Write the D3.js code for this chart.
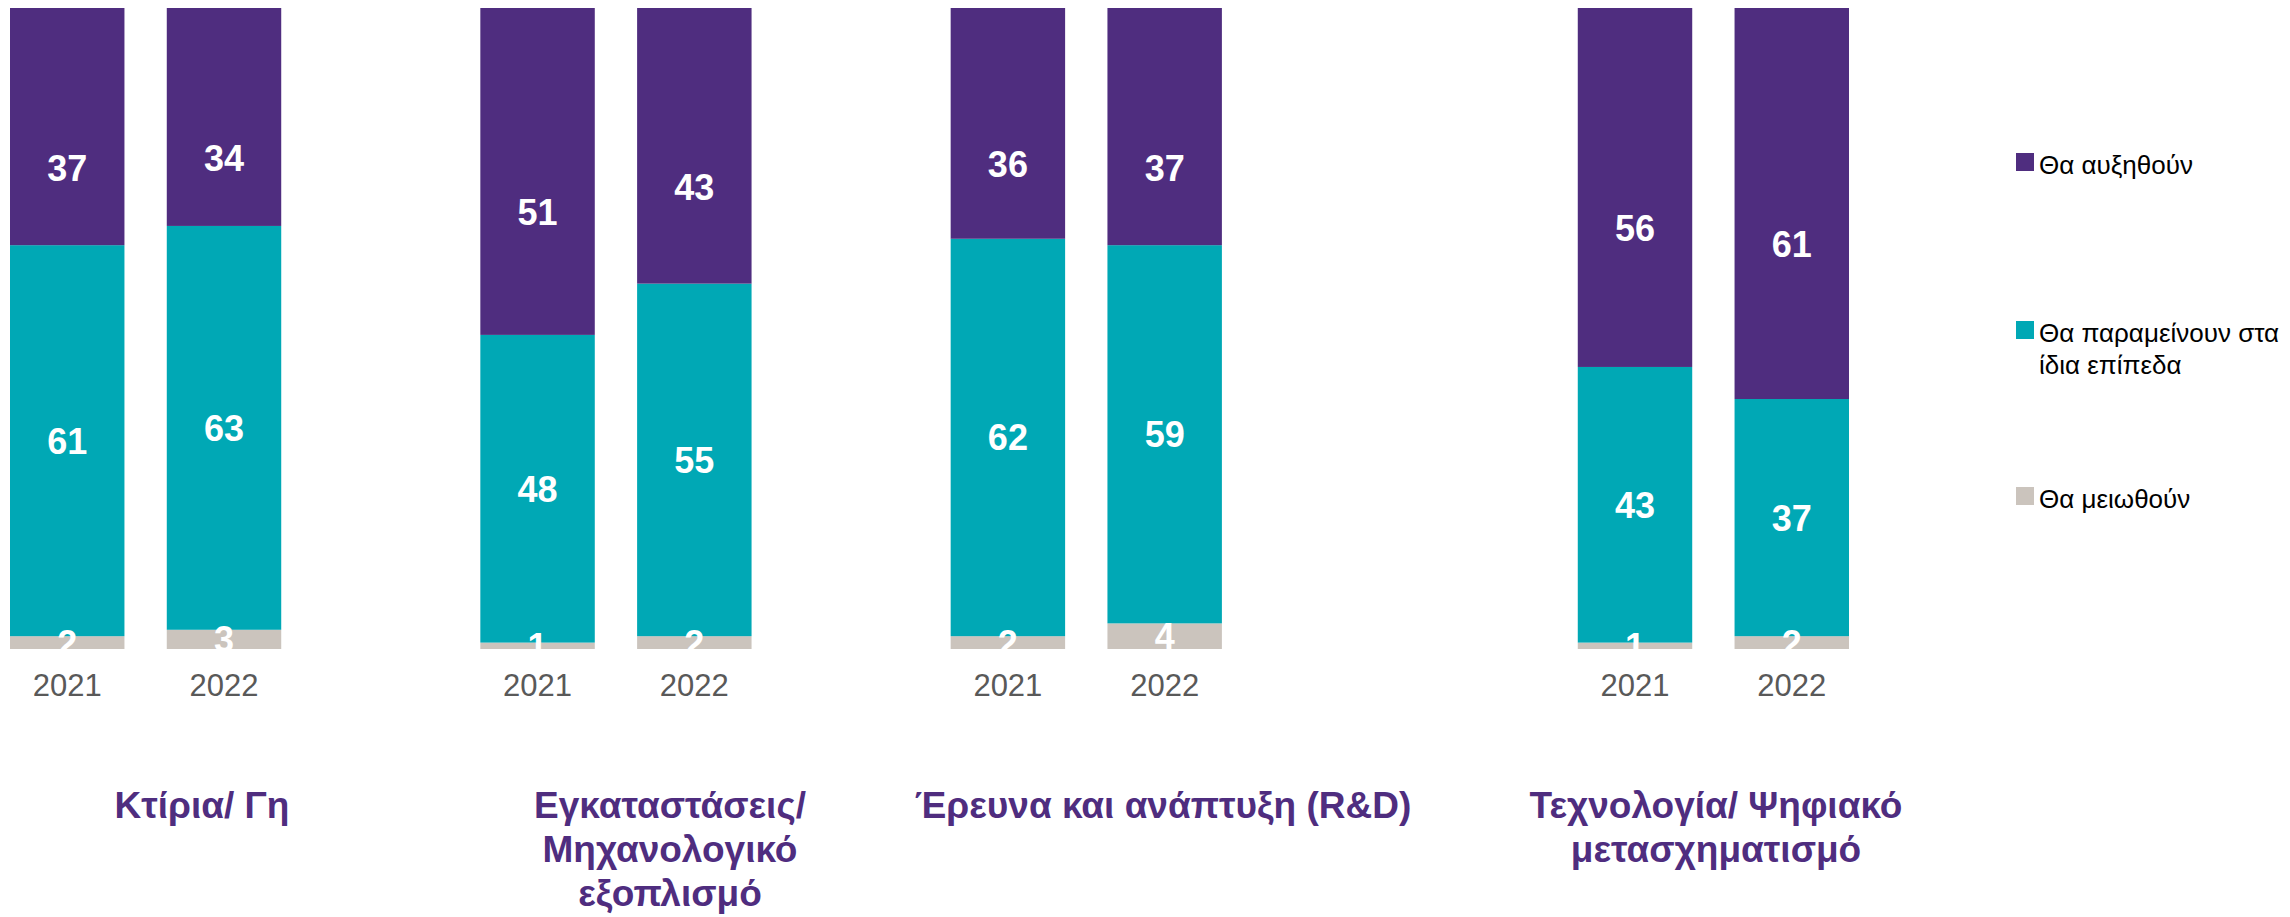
<!DOCTYPE html>
<html>
<head>
<meta charset="utf-8">
<script src="https://cdn.jsdelivr.net/npm/d3@7"></script>
<style>
    body { margin: 0; background: #fff; }
    text { font-family: "Liberation Sans", Arial, sans-serif; }
</style>
</head>
<body>
<svg id="canvas" width="2290" height="917"></svg>
<script>
const categories = [
    ["Κτίρια/ Γη"],
    ["Εγκαταστάσεις/", "Μηχανολογικό", "εξοπλισμό"],
    ["Έρευνα και ανάπτυξη (R&D)"],
    ["Τεχνολογία/ Ψηφιακό", "μετασχηματισμό"]
];
const years = ["2021", "2022"];
const seriesKeys = ["decrease", "same", "increase"];
const seriesNames = {
    increase: ["Θα αυξηθούν"],
    same: ["Θα παραμείνουν στα", "ίδια επίπεδα"],
    decrease: ["Θα μειωθούν"]
};

// one value per bar: category order, 2021 then 2022
const decrease = [2, 3, 1, 2, 2, 4, 1, 2];
const same = [61, 63, 48, 55, 62, 59, 43, 37];
const increase = [37, 34, 51, 43, 36, 37, 56, 61];

const svg = d3.select("#canvas");
const width = 2290;
const height = 917;

const colors = {
    increase: "#4f2d7f",
    same: "#00a8b5",
    decrease: "#cbc4bd"
};

// empty slots after each category (the chart leaves gaps)
const gapsAfter = [1, 1, 2, 0];

const bars = [];
const slots = [];
categories.forEach((c, ci) => {
    years.forEach((y, yi) => {
        const i = ci * years.length + yi;
        const key = ci + "-" + y;
        slots.push(key);
        bars.push({ key, cat: ci, year: y, decrease: decrease[i], same: same[i], increase: increase[i] });
    });
    for (let g = 0; g < gapsAfter[ci]; g++) slots.push("gap" + ci + "-" + g);
});

const x = d3.scaleBand()
    .domain(slots)
    .range([10, 1849])
    .paddingInner(0.27)
    .paddingOuter(0);

const y = d3.scaleLinear()
    .domain([0, 100])
    .range([649, 8]);

const stacked = d3.stack().keys(seriesKeys)(bars);

const layers = svg.append("g")
    .selectAll("g")
    .data(stacked)
    .join("g")
    .attr("fill", d => colors[d.key]);

layers.selectAll("rect")
    .data(d => d)
    .join("rect")
    .attr("x", d => x(d.data.key))
    .attr("y", d => y(d[1]))
    .attr("width", x.bandwidth())
    .attr("height", d => y(d[0]) - y(d[1]));

// value labels, the top series sits a bit lower than the middle
const topLabelShift = 41;
stacked.forEach(layer => {
    svg.append("g")
        .selectAll("text")
        .data(layer)
        .join("text")
        .attr("x", d => x(d.data.key) + x.bandwidth() / 2)
        .attr("y", d => (y(d[0]) + y(d[1])) / 2 + (layer.key === "increase" ? topLabelShift : 0))
        .attr("dy", "0.36em")
        .attr("text-anchor", "middle")
        .attr("font-size", "36px")
        .attr("font-weight", "bold")
        .attr("fill", "white")
        .text(d => d.data[layer.key]);
});

// year axis labels
svg.append("g")
    .selectAll("text")
    .data(bars)
    .join("text")
    .attr("x", d => x(d.key) + x.bandwidth() / 2)
    .attr("y", 696)
    .attr("text-anchor", "middle")
    .attr("font-size", "31px")
    .attr("fill", "#595959")
    .text(d => d.year);

// category titles
const titleX = [202, 670, 1163, 1716];
categories.forEach((lines, ci) => {
    const t = svg.append("text")
        .attr("x", titleX[ci])
        .attr("y", 818)
        .attr("text-anchor", "middle")
        .attr("font-size", "37px")
        .attr("font-weight", "bold")
        .attr("fill", "#4f2d7f");
    lines.forEach((line, li) => {
        t.append("tspan")
            .attr("x", titleX[ci])
            .attr("dy", li === 0 ? 0 : 44)
            .text(line);
    });
});

// legend
const legendTop = { increase: 153, same: 321, decrease: 487 };
["increase", "same", "decrease"].forEach(k => {
    const ly = legendTop[k];
    svg.append("rect")
        .attr("x", 2016)
        .attr("y", ly)
        .attr("width", 18)
        .attr("height", 18)
        .attr("fill", colors[k]);

    const t = svg.append("text")
        .attr("x", 2039)
        .attr("y", ly + 21)
        .attr("font-size", "26px")
        .attr("fill", "#000");
    seriesNames[k].forEach((line, li) => {
        t.append("tspan")
            .attr("x", 2039)
            .attr("dy", li === 0 ? 0 : 32)
            .text(line);
    });
});
</script>
</body>
</html>
